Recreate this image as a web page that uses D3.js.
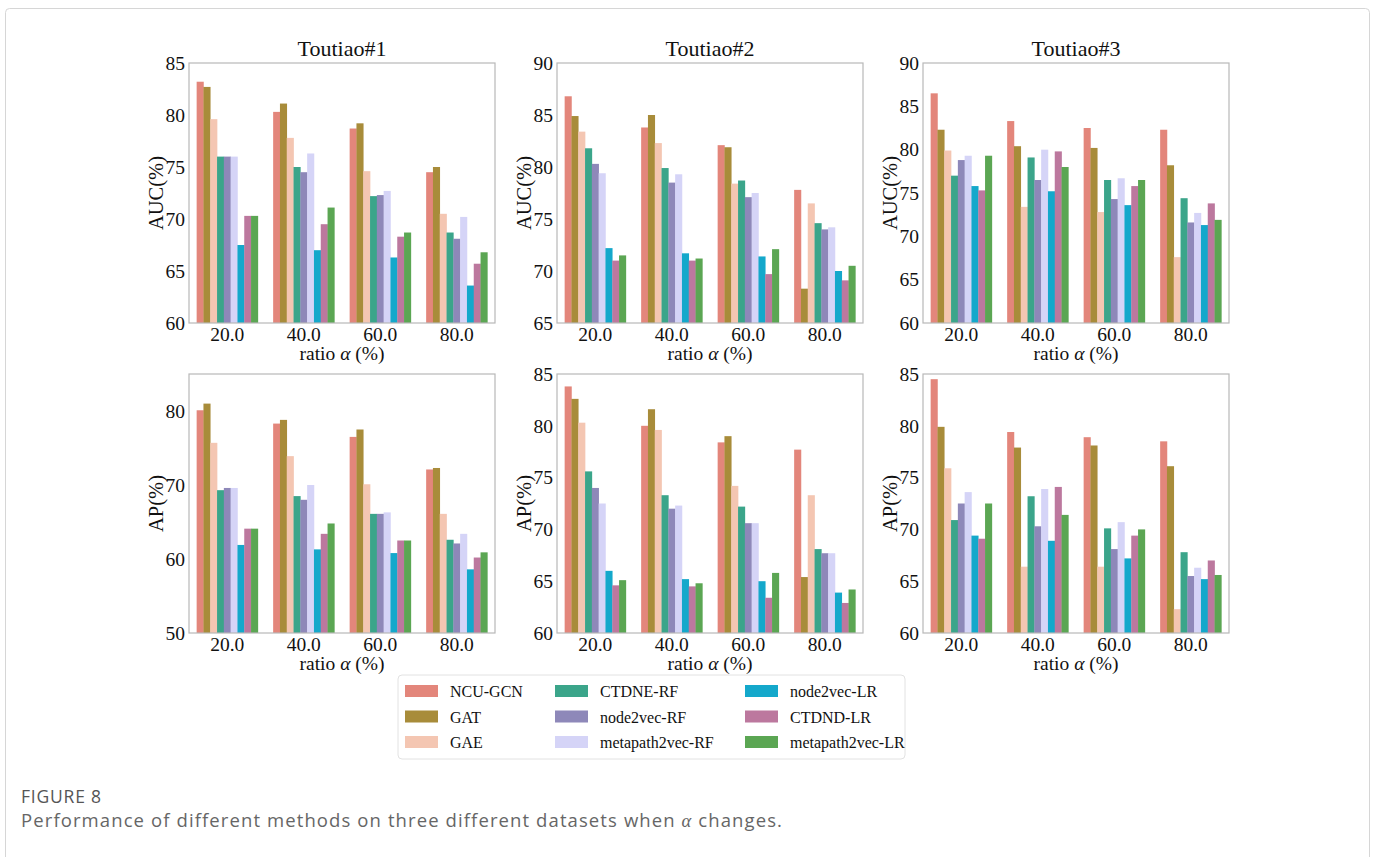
<!DOCTYPE html>
<html>
<head>
<meta charset="utf-8">
<script src="https://cdn.jsdelivr.net/npm/d3@7"></script>
<style>
  body { margin: 0; background: #fff; }
  svg { display: block; }
</style>
</head>
<body>
<div id="fig"></div>
<script>
var width = 1375;
var height = 857;

var methods = ["NCU-GCN", "GAT", "GAE", "CTDNE-RF", "node2vec-RF", "metapath2vec-RF",
  "node2vec-LR", "CTDND-LR", "metapath2vec-LR"];
var colors = ["#e3867b", "#a88c3a", "#f4c6b2", "#3ba58a", "#8e88b9", "#d5d4f7",
  "#14a8cb", "#bc789e", "#5ba653"];
var ratios = ["20.0", "40.0", "60.0", "80.0"];
var datasets = ["Toutiao#1", "Toutiao#2", "Toutiao#3"];

// one row per ratio, one value per method (same order as methods)
var auc1 = [
  [83.2, 82.7, 79.6, 76.0, 76.0, 76.0, 67.5, 70.3, 70.3],
  [80.3, 81.1, 77.8, 75.0, 74.5, 76.3, 67.0, 69.5, 71.1],
  [78.7, 79.2, 74.6, 72.2, 72.3, 72.7, 66.3, 68.3, 68.7],
  [74.5, 75.0, 70.5, 68.7, 68.1, 70.2, 63.6, 65.7, 66.8]
];
var auc2 = [
  [86.8, 84.9, 83.4, 81.8, 80.3, 79.4, 72.2, 71.0, 71.5],
  [83.8, 85.0, 82.3, 79.9, 78.5, 79.3, 71.7, 71.0, 71.2],
  [82.1, 81.9, 78.4, 78.7, 77.1, 77.5, 71.4, 69.7, 72.1],
  [77.8, 68.3, 76.5, 74.6, 74.0, 74.2, 70.0, 69.1, 70.5]
];
var auc3 = [
  [86.5, 82.3, 79.9, 77.0, 78.8, 79.3, 75.8, 75.3, 79.3],
  [83.3, 80.4, 73.4, 79.1, 76.5, 80.0, 75.2, 79.8, 78.0],
  [82.5, 80.2, 72.8, 76.5, 74.3, 76.7, 73.6, 75.8, 76.5],
  [82.3, 78.2, 67.6, 74.4, 71.6, 72.7, 71.3, 73.8, 71.9]
];
var ap1 = [
  [80.1, 81.0, 75.7, 69.3, 69.6, 69.6, 61.9, 64.1, 64.1],
  [78.3, 78.8, 73.9, 68.5, 68.0, 70.0, 61.3, 63.4, 64.8],
  [76.5, 77.5, 70.1, 66.1, 66.1, 66.3, 60.8, 62.5, 62.5],
  [72.1, 72.3, 66.1, 62.6, 62.1, 63.4, 58.6, 60.2, 60.9]
];
var ap2 = [
  [83.8, 82.6, 80.3, 75.6, 74.0, 72.5, 66.0, 64.6, 65.1],
  [80.0, 81.6, 79.6, 73.3, 72.0, 72.3, 65.2, 64.5, 64.8],
  [78.4, 79.0, 74.2, 72.2, 70.6, 70.6, 65.0, 63.4, 65.8],
  [77.7, 65.4, 73.3, 68.1, 67.7, 67.7, 63.9, 62.9, 64.2]
];
var ap3 = [
  [84.5, 79.9, 75.9, 70.9, 72.5, 73.6, 69.4, 69.1, 72.5],
  [79.4, 77.9, 66.4, 73.2, 70.3, 73.9, 68.9, 74.1, 71.4],
  [78.9, 78.1, 66.4, 70.1, 68.1, 70.7, 67.2, 69.4, 70.0],
  [78.5, 76.1, 62.3, 67.8, 65.5, 66.3, 65.2, 67.0, 65.6]
];

var aucDomains = [[60, 85], [65, 90], [60, 90]];
var apDomains = [[50, 85], [60, 85], [60, 85]];
var aucTicks = [[60, 65, 70, 75, 80, 85], [65, 70, 75, 80, 85, 90], [60, 65, 70, 75, 80, 85, 90]];
var apTicks = [[50, 60, 70, 80], [60, 65, 70, 75, 80, 85], [60, 65, 70, 75, 80, 85]];

var serif = "'Liberation Serif', 'Times New Roman', serif";

var svg = d3.select("#fig").append("svg")
  .attr("width", width)
  .attr("height", height);

// card border
svg.append("rect")
  .attr("x", 5.5).attr("y", 8.5)
  .attr("width", 1364).attr("height", 900)
  .attr("rx", 4)
  .attr("fill", "none")
  .attr("stroke", "#d6d6d6");

var lefts = [189, 557, 923];
var pw = 306;

var panels = [];
for (var i = 0; i < 3; i++) {
  panels.push({x: lefts[i], y: 63, h: 260, data: [auc1, auc2, auc3][i], domain: aucDomains[i],
    ticks: aucTicks[i], ylab: "AUC(%)", title: datasets[i]});
}
for (var i = 0; i < 3; i++) {
  panels.push({x: lefts[i], y: 374, h: 259, data: [ap1, ap2, ap3][i], domain: apDomains[i],
    ticks: apTicks[i], ylab: "AP(%)", title: null});
}

panels.forEach(drawPanel);

function drawPanel(p) {
  var g = svg.append("g").attr("transform", "translate(" + p.x + "," + p.y + ")");

  var x0 = d3.scaleBand().domain(ratios).range([0, pw]).paddingInner(0.2).paddingOuter(0.1);
  var x1 = d3.scaleBand().domain(methods).range([0, x0.bandwidth()]).padding(0);
  var y = d3.scaleLinear().domain(p.domain).range([p.h, 0]);

  var groups = g.selectAll(".grp")
    .data(ratios)
    .enter().append("g")
      .attr("class", "grp")
      .attr("transform", function(d) { return "translate(" + x0(d) + ",0)"; });

  groups.selectAll("rect")
    .data(function(d, i) {
      return p.data[i].map(function(v, j) { return {m: methods[j], v: v, c: colors[j]}; });
    })
    .enter().append("rect")
      .attr("x", function(d) { return x1(d.m); })
      .attr("width", x1.bandwidth() + 0.3)
      .attr("y", function(d) { return y(d.v); })
      .attr("height", function(d) { return p.h - y(d.v); })
      .attr("fill", function(d) { return d.c; });

  // frame
  g.append("rect")
    .attr("width", pw).attr("height", p.h)
    .attr("fill", "none")
    .attr("stroke", "#b8b8b8")
    .attr("stroke-width", 1.2);

  var yAxis = g.append("g").call(d3.axisLeft(y).tickValues(p.ticks).tickSize(0).tickPadding(4));
  yAxis.select(".domain").remove();
  yAxis.selectAll("text")
    .attr("font-family", serif)
    .attr("font-size", 19.5)
    .attr("fill", "#111");

  var xAxis = g.append("g").attr("transform", "translate(0," + p.h + ")")
    .call(d3.axisBottom(x0).tickSize(0).tickPadding(4));
  xAxis.select(".domain").remove();
  xAxis.selectAll("text")
    .attr("font-family", serif)
    .attr("font-size", 19.5)
    .attr("fill", "#111");

  var xl = g.append("text")
    .attr("x", pw / 2)
    .attr("y", p.h + 37)
    .attr("text-anchor", "middle")
    .attr("font-family", serif)
    .attr("font-size", 19.5)
    .attr("fill", "#111");
  xl.append("tspan").text("ratio ");
  xl.append("tspan").attr("font-style", "italic").text("α");
  xl.append("tspan").text(" (%)");

  g.append("text")
    .attr("transform", "translate(-26," + (p.h / 2) + ") rotate(-90)")
    .attr("text-anchor", "middle")
    .attr("font-family", serif)
    .attr("font-size", 20.5)
    .attr("fill", "#111")
    .text(p.ylab);

  if (p.title) {
    g.append("text")
      .attr("x", pw / 2)
      .attr("y", -7)
      .attr("text-anchor", "middle")
      .attr("font-family", serif)
      .attr("font-size", 22)
      .attr("fill", "#111")
      .text(p.title);
  }
}

// legend
var leg = svg.append("g").attr("transform", "translate(398,675)");
leg.append("rect")
  .attr("width", 507).attr("height", 84)
  .attr("rx", 4)
  .attr("fill", "#fff")
  .attr("stroke", "#e2e2e2");

var colX = [7, 157, 347];
var item = leg.selectAll(".item")
  .data(methods)
  .enter().append("g")
    .attr("class", "item")
    .attr("transform", function(d, i) {
      return "translate(" + colX[Math.floor(i / 3)] + "," + (10 + (i % 3) * 25.5) + ")";
    });
item.append("rect")
  .attr("width", 33).attr("height", 12)
  .attr("fill", function(d, i) { return colors[i]; });
item.append("text")
  .attr("x", 45)
  .attr("y", 12)
  .attr("font-family", serif)
  .attr("font-size", 16)
  .attr("fill", "#111")
  .text(function(d) { return d; });

// caption
svg.append("text")
  .attr("x", 21).attr("y", 803)
  .attr("font-family", "'Open Sans', sans-serif")
  .attr("font-size", 17.5)
  .attr("letter-spacing", 0.8)
  .attr("fill", "#555")
  .text("FIGURE 8");
var cap = svg.append("text")
  .attr("x", 21).attr("y", 827)
  .attr("font-family", "'Open Sans', sans-serif")
  .attr("font-size", 18.5)
  .attr("letter-spacing", 1.1)
  .attr("fill", "#666");
cap.append("tspan").text("Performance of different methods on three different datasets when ");
cap.append("tspan").attr("font-family", serif).attr("font-style", "italic").text("α");
cap.append("tspan").text(" changes.");
</script>
</body>
</html>
